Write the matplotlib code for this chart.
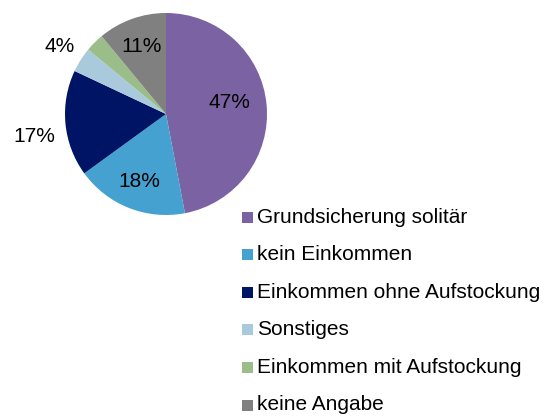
import matplotlib.pyplot as plt
from matplotlib.patches import Rectangle
import numpy as np

plt.rcParams['font.family'] = ['Liberation Sans', 'DejaVu Sans']

# Data
categories = ['Grundsicherung solitär', 'kein Einkommen', 'Einkommen ohne Aufstockung',
              'Sonstiges', 'Einkommen mit Aufstockung', 'keine Angabe']
shares = [47, 18, 17, 4, 3, 11]
labels = ['47%', '18%', '17%', '4%', '', '11%']
colors = ['#7B63A3', '#45A1D0', '#001466', '#A9CADD', '#9BBD8A', '#808080']

# label placement: distance (fraction of radius) and angle shift (deg)
label_r = [0.64, 0.72, 1.32, 1.25, 1.2, 0.71]
label_shift = [5, 0, 4.5, 0, 0, 0]

fig = plt.figure(figsize=(5.52, 4.17), dpi=100)
ax = fig.add_axes([0, 0, 1, 1])

cx, cy, r = 166, 417 - 114, 101
wedges, _ = ax.pie(shares, colors=colors, startangle=90, counterclock=False,
                   center=(cx, cy), radius=r, frame=True,
                   wedgeprops=dict(linewidth=0))
ax.set_xlim(0, 552)
ax.set_ylim(0, 417)
ax.set_aspect('equal')
ax.axis('off')

for w, lab, d, sh in zip(wedges, labels, label_r, label_shift):
    if not lab:
        continue
    ang = np.deg2rad((w.theta1 + w.theta2) / 2 + sh)
    ax.text(cx + d * r * np.cos(ang), cy + d * r * np.sin(ang), lab,
            ha='center', va='center', fontsize=15, color='#000000')

# legend, drawn by hand
y0, step, box = 417 - 217, 37.6, 11
for i, (c, name) in enumerate(zip(colors, categories)):
    y = y0 - i * step
    ax.add_patch(Rectangle((242, y - box / 2), box, box, facecolor=c, edgecolor='none'))
    ax.text(257, y, name, ha='left', va='center', fontsize=15, color='#000000')

fig.savefig('out.png', dpi=100)
